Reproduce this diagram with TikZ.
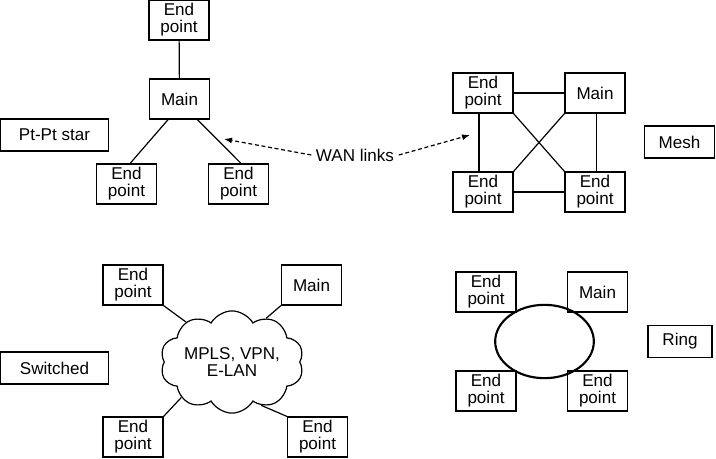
\documentclass[tikz,border=0pt]{standalone}
\usepackage{fontspec}
\setmainfont{Liberation Sans}
\usetikzlibrary{shapes.geometric,shapes.symbols,arrows.meta}

\begin{document}
\begin{tikzpicture}[x=0.75pt,y=-0.75pt,
  every node/.style={font=\fontsize{12.8}{12.8}\selectfont},
  sitebox/.style={draw,fill=white,line width=0.9pt,minimum width=45pt,minimum height=30pt,inner sep=0pt,align=center},
  topobox/.style={draw,line width=0.9pt,minimum height=24pt,inner sep=0pt},
  link/.style={line width=0.9pt},
  wanarrow/.style={line width=0.9pt,dash pattern=on 3pt off 2pt,-{Latex[length=6pt,width=4.5pt]}}]
\useasboundingbox (0,0) rectangle (716,458);

\node[sitebox] (starTop) at (179,20) {End\\point};
\node[sitebox] (starMain) at (179.5,99) {Main};
\node[sitebox] (starBL) at (126.5,184) {End\\point};
\node[sitebox] (starBR) at (238.5,184) {End\\point};
\node[topobox,minimum width=81pt] (starLabel) at (54.5,135) {Pt-Pt star};
\draw[link] (starTop) -- (starMain);
\draw[link] (starMain.241) -- (starBL.80);
\draw[link] (starMain.311) -- (starBR.83);

\node (wan) at (355,155) {WAN links};
\coordinate (starPt) at (224,139);
\coordinate (meshPt) at (470,135);
\draw[wanarrow] (wan.west) -- (starPt);
\draw[wanarrow] (wan.east) -- (meshPt);

\node[sitebox] (meshTL) at (483,93) {End\\point};
\node[sitebox] (meshTR) at (595,93) {Main};
\node[sitebox] (meshBL) at (483,192) {End\\point};
\node[sitebox] (meshBR) at (595,192) {End\\point};
\node[topobox,minimum width=53pt] (meshLabel) at (679.5,142) {Mesh};
\draw[link] (meshTL) -- (meshTR);
\draw[link] (meshBL) -- (meshBR);
\draw[link] (meshTL.259) -- (meshBL.101);
\draw[link] (meshTR.275) -- (meshBR.85);
\draw[link] (meshTL.south east) -- (meshBR.north west);
\draw[link] (meshTR.south west) -- (meshBL.north east);

\node[cloud,draw,line width=0.9pt,cloud puffs=10,cloud puff arc=120,aspect=1.65,minimum width=99pt,minimum height=60pt,inner sep=0pt,align=center] (swCloud) at (232,362) {MPLS, VPN,\\E-LAN};
\node[sitebox] (swTL) at (133,285) {End\\point};
\node[sitebox] (swMain) at (311.5,285) {Main};
\node[sitebox] (swBL) at (133,437) {End\\point};
\node[sitebox] (swBR) at (317.5,437) {End\\point};
\node[topobox,minimum width=81pt] (swLabel) at (54.5,368) {Switched};
\draw[link] (swTL.south east) -- (swCloud.139);
\draw[link] (swMain.south west) -- (swCloud.52);
\draw[link] (swBL.north east) -- (swCloud.215);
\draw[link] (swBR.north west) -- (swCloud.304);

\node[sitebox] (ringTL) at (486,292) {End\\point};
\node[sitebox] (ringTR) at (597.5,292) {Main};
\node[sitebox] (ringBL) at (486,391) {End\\point};
\node[sitebox] (ringBR) at (597.5,391) {End\\point};
\node[topobox,minimum width=48pt] (ringLabel) at (680,341.5) {Ring};
\node[ellipse,draw,line width=1.6pt,minimum width=74pt,minimum height=55pt,inner sep=0pt] (ring) at (544.5,341.5) {};
\end{tikzpicture}
\end{document}
